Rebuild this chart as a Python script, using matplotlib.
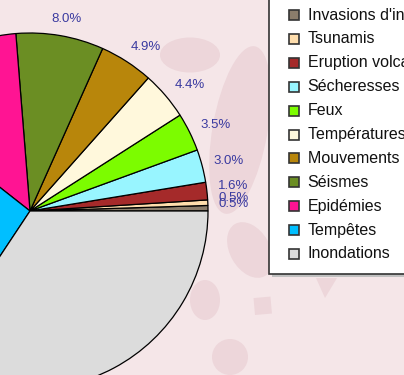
import numpy as np
import matplotlib
matplotlib.use("Agg")
import matplotlib.pyplot as plt
from matplotlib.patches import Rectangle, Circle, Ellipse, Polygon

plt.rcParams['font.family'] = ['Liberation Sans', 'DejaVu Sans']

categories = ["Invasions d'insectes", "Tsunamis", "Eruption volcanique", "Sécheresses",
              "Feux", "Températures extrêmes", "Mouvements de terrain", "Séismes",
              "Epidémies", "Tempêtes", "Inondations"]
values = [0.5, 0.5, 1.6, 3.0, 3.5, 4.4, 4.9, 8.0, 13.2, 26.4, 34.5]
colors = ["#8b7d6b", "#ffdead", "#a52a2a", "#98f5ff", "#7cfc00", "#fff8dc",
          "#b8860b", "#6b8e23", "#ff1493", "#00bfff", "#dcdcdc"]

W, H = 404, 375
bg = "#f5e6e8"
blob = "#edd6da"

fig = plt.figure(figsize=(W / 100, H / 100), dpi=100, facecolor=bg)
ax = fig.add_axes([0, 0, 1, 1])
ax.set_facecolor(bg)

# faint background map shapes
for shape in [Circle((230, H - 357), 18),
              Rectangle((255, H - 315), 17, 17, angle=5),
              Polygon([(316, H - 278), (337, H - 278), (325, H - 298)]),
              Ellipse((240, H - 130), 55, 170, angle=-10),
              Ellipse((190, H - 55), 60, 35),
              Ellipse((250, H - 250), 40, 60, angle=30),
              Ellipse((205, H - 300), 30, 40)]:
    shape.set_facecolor(blob)
    shape.set_edgecolor("none")
    shape.set_zorder(0)
    ax.add_patch(shape)

cx, cy, r = 30, H - 211, 178
wedges, _ = ax.pie(values, colors=colors, startangle=0, counterclock=True,
                   center=(cx, cy), radius=r,
                   wedgeprops=dict(edgecolor="black", linewidth=0.9))
for w in wedges:
    w.set_zorder(2)

# percentage labels outside the pie
total = sum(values)
ang = 0.0
for v in values:
    mid = ang + v / total * 180
    ang += v / total * 360
    t = np.deg2rad(mid - 3 * np.sin(np.deg2rad(2 * mid)))
    d = 192 + 12 * abs(np.cos(t))
    shift = 4 * abs(np.cos(t)) * (1 if np.sin(t) >= 0 else -1)
    ax.text(cx + d * np.cos(t), cy + d * np.sin(t) + shift, "%.1f%%" % v,
            ha="center", va="center", fontsize=9.5, color="#3a3aa0", zorder=3)

ax.set_xlim(0, W)
ax.set_ylim(0, H)
ax.set_aspect("equal")
ax.axis("off")

# legend box
ax.add_patch(Rectangle((272, H - 277), 200, 300, facecolor="#c0c0c0", edgecolor="none", zorder=4))
ax.add_patch(Rectangle((269, H - 274), 200, 300, facecolor="white", edgecolor="#333333",
                       linewidth=1.2, zorder=5))
for i, (lab, col) in enumerate(zip(categories, colors)):
    y = H - (15 + 23.9 * i)
    ax.add_patch(Rectangle((289, y - 5), 10, 10, facecolor=col, edgecolor="#333333",
                           linewidth=1.2, zorder=6))
    ax.text(307.5, y, lab, ha="left", va="center", fontsize=11.5, color="#111111", zorder=6)

fig.savefig("out.png", dpi=100, facecolor=bg)
